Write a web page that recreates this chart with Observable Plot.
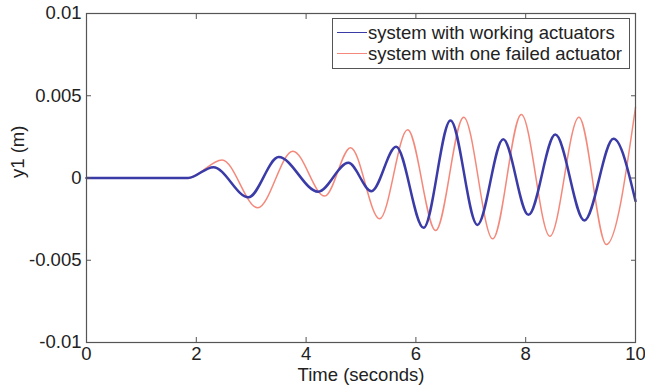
<!DOCTYPE html>
<html><head><meta charset="utf-8">
<script src="https://cdn.jsdelivr.net/npm/d3@7"></script>
<script src="https://cdn.jsdelivr.net/npm/@observablehq/plot@0.6"></script>
<style>
body{margin:0;background:#fff;}
#chart{position:relative;width:645px;height:385px;font-family:"Liberation Sans",Arial,sans-serif;}
#legend{position:absolute;left:332px;top:18px;width:296px;height:49px;border:1px solid #555;background:#fff;font-size:18.5px;color:#222;}
.row{position:absolute;left:4px;height:21px;display:flex;align-items:center;white-space:nowrap;}
.sw{width:30px;height:0;margin-right:1px;}
</style></head>
<body><div id="chart"></div>
<script>
// Data
const seriesNames = ["system with working actuators", "system with one failed actuator"];
const seriesColors = ["#3b3ba8", "#f4897b"];
const seriesWidths = [2.5, 1.5];

const tWorking = [0, 1.85, 2.31, 2.95, 3.50, 4.22, 4.77, 5.19, 5.64, 6.14, 6.63, 7.12, 7.59, 8.05, 8.54, 9.07, 9.60, 10];
const yWorking = [0, 0, 0.00066, -0.00117, 0.00127, -0.00083, 0.00092, -0.0008, 0.0019, -0.00303, 0.0035, -0.00285, 0.00236, -0.00224, 0.00264, -0.00258, 0.00238, -0.0014];

const tFailed = [0, 1.85, 2.47, 3.12, 3.76, 4.34, 4.81, 5.34, 5.85, 6.36, 6.87, 7.40, 7.92, 8.44, 8.97, 9.47, 10];
const yFailed = [0, 0, 0.0011, -0.00181, 0.00163, -0.0011, 0.00184, -0.00248, 0.00293, -0.00319, 0.0037, -0.0037, 0.00386, -0.00354, 0.0037, -0.00404, 0.0043];

const xTicks = [0, 2, 4, 6, 8, 10];
const xTickLabels = ["0", "2", "4", "6", "8", "10"];
const yTicks = [-0.01, -0.005, 0, 0.005, 0.01];
const yTickLabels = ["-0.01", "-0.005", "0", "0.005", "0.01"];
const xLabel = "Time (seconds)";
const yLabel = "y1 (m)";

const working = tWorking.map((t, i) => ({t, y: yWorking[i]}));
const failed = tFailed.map((t, i) => ({t, y: yFailed[i]}));

const axisColor = "#555";
const textColor = "#222";

const chart = Plot.plot({
  width: 645, height: 385,
  marginLeft: 86, marginRight: 10, marginTop: 13, marginBottom: 43,
  style: {fontFamily: "'Liberation Sans', Arial, sans-serif", fontSize: "18.5px", color: textColor, background: "#fff"},
  x: {domain: [0, 10], label: null},
  y: {domain: [-0.01, 0.01], label: null},
  marks: [
    Plot.line(failed, {x: "t", y: "y", curve: "monotone-x", stroke: seriesColors[1], strokeWidth: seriesWidths[1]}),
    Plot.line(working, {x: "t", y: "y", curve: "monotone-x", stroke: seriesColors[0], strokeWidth: seriesWidths[0]}),
    Plot.frame({stroke: axisColor, strokeWidth: 1.2}),
    Plot.axisX(xTicks, {anchor: "bottom", tickSize: -5, tickFormat: () => "", stroke: axisColor, label: null}),
    Plot.axisX(xTicks, {anchor: "top", tickSize: -5, tickFormat: () => "", stroke: axisColor, label: null}),
    Plot.axisY(yTicks, {anchor: "left", tickSize: -5, tickFormat: () => "", stroke: axisColor, label: null}),
    Plot.axisY(yTicks, {anchor: "right", tickSize: -5, tickFormat: () => "", stroke: axisColor, label: null}),
    Plot.axisX(xTicks, {anchor: "bottom", tickSize: 0, tickPadding: 4, tickFormat: d => xTickLabels[xTicks.indexOf(d)], fill: textColor, label: null}),
    Plot.axisY(yTicks, {anchor: "left", tickSize: 0, tickPadding: 5, tickFormat: d => yTickLabels[yTicks.indexOf(d)], fill: textColor, label: null}),
    Plot.text([xLabel], {frameAnchor: "bottom", dy: 33, text: d => d, lineAnchor: "middle", fill: textColor}),
    Plot.text([yLabel], {frameAnchor: "left", dx: -68, rotate: -90, text: d => d, lineAnchor: "middle", fill: textColor})
  ]
});

const root = document.getElementById("chart");
root.appendChild(chart);

const legend = document.createElement("div");
legend.id = "legend";
seriesNames.forEach((name, i) => {
  const row = document.createElement("div");
  row.className = "row";
  row.style.top = (3 + i * 21) + "px";
  const sw = document.createElement("div");
  sw.className = "sw";
  sw.style.borderTop = "1.5px solid " + seriesColors[i];
  const label = document.createElement("span");
  label.textContent = name;
  row.appendChild(sw);
  row.appendChild(label);
  legend.appendChild(row);
});
root.appendChild(legend);
</script>
</body></html>
